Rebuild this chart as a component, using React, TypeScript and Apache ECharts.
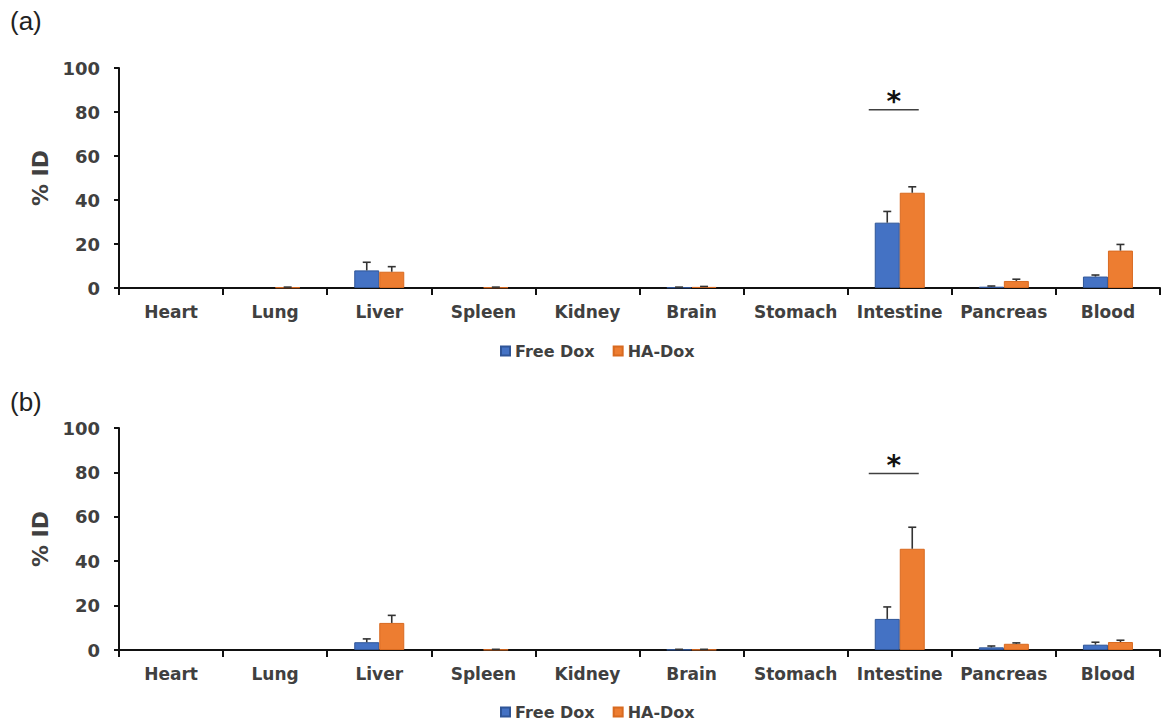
import React, { useEffect, useRef } from "react";
import * as echarts from "echarts";

const categories = ["Heart", "Lung", "Liver", "Spleen", "Kidney", "Brain", "Stomach", "Intestine", "Pancreas", "Blood"];
const seriesNames = ["Free Dox", "HA-Dox"];
const yTicks = { min: 0, max: 100, interval: 20 };

// Panel (a)
const freeA = [0, 0, 8.0, 0, 0, 0.3, 0, 29.7, 0.6, 5.2];
const freeAErr = [0, 0, 11.7, 0, 0, 0.4, 0, 34.8, 0.9, 5.9];
const haA = [0, 0.3, 7.4, 0.3, 0, 0.5, 0, 43.3, 3.2, 17.0];
const haAErr = [0, 0.4, 9.7, 0.4, 0, 0.7, 0, 46.0, 4.0, 19.8];
const sigA = [[7, 81]];

// Panel (b)
const freeB = [0, 0, 3.5, 0, 0, 0.2, 0, 14.0, 1.2, 2.4];
const freeBErr = [0, 0, 5.0, 0, 0, 0.3, 0, 19.4, 1.8, 3.5];
const haB = [0, 0, 12.2, 0.2, 0, 0.2, 0, 45.6, 2.8, 3.6];
const haBErr = [0, 0, 15.6, 0.3, 0, 0.3, 0, 55.3, 3.2, 4.4];
const sigB = [[7, 79.5]];

const BLUE = "#4472C4";
const ORANGE = "#ED7D31";
const FONT = "DejaVu Sans";
const BAR_W = 25;
const TEXT = "#404040";

function errSeries(name: string, vals: number[], tops: number[], gi: number, sign: number) {
  return {
    type: "custom",
    name: name + "-err",
    xAxisIndex: gi,
    yAxisIndex: gi,
    silent: true,
    z: 5,
    data: vals.map((v, i) => [i, v, tops[i]]),
    renderItem: (params: any, api: any) => {
      const x = api.value(0);
      const v = api.value(1);
      const e = api.value(2);
      if (e - v <= 0) return null;
      const p0 = api.coord([x, v]);
      const p1 = api.coord([x, e]);
      const cx = p0[0] + sign * BAR_W / 2;
      const style = { stroke: "#333", lineWidth: 1.6 };
      return {
        type: "group",
        children: [
          { type: "line", shape: { x1: cx, y1: p0[1], x2: cx, y2: p1[1] }, style },
          { type: "line", shape: { x1: cx - 4, y1: p1[1], x2: cx + 4, y2: p1[1] }, style },
        ],
      };
    },
  };
}

function sigSeries(data: number[][], gi: number) {
  return {
    type: "custom",
    xAxisIndex: gi,
    yAxisIndex: gi,
    silent: true,
    z: 6,
    data,
    renderItem: (params: any, api: any) => {
      const p = api.coord([api.value(0), api.value(1)]);
      return {
        type: "group",
        children: [
          { type: "line", shape: { x1: p[0] - 31, y1: p[1], x2: p[0] + 19, y2: p[1] }, style: { stroke: "#404040", lineWidth: 1.6 } },
          {
            type: "text",
            x: p[0] - 6,
            y: p[1] + 6,
            style: { text: "*", fontSize: 28, fontWeight: "bold", fontFamily: FONT, fill: "#111", align: "center", verticalAlign: "bottom" },
          },
        ],
      };
    },
  };
}

function barSeries(name: string, data: number[], gi: number, color: string, border: string) {
  return {
    type: "bar",
    name,
    xAxisIndex: gi,
    yAxisIndex: gi,
    data: data.map((v) => (v > 0 ? v : "-")),
    barWidth: BAR_W,
    barGap: "0%",
    itemStyle: { color, borderColor: border, borderWidth: 1 },
  };
}

function xAxis(gi: number) {
  return {
    type: "category",
    gridIndex: gi,
    data: categories,
    axisLine: { lineStyle: { color: "#111", width: 2 } },
    axisTick: { show: true, length: 7, lineStyle: { color: "#111", width: 2 } },
    axisLabel: { color: TEXT, fontFamily: FONT, fontWeight: "bold", fontSize: 17, margin: 15, interval: 0 },
  };
}

function yAxis(gi: number) {
  return {
    type: "value",
    gridIndex: gi,
    min: yTicks.min,
    max: yTicks.max,
    interval: yTicks.interval,
    name: "% ID",
    nameLocation: "middle",
    nameRotate: 90,
    nameGap: 64,
    nameTextStyle: { color: TEXT, fontFamily: FONT, fontWeight: "bold", fontSize: 22 },
    axisLine: { show: true, lineStyle: { color: "#111", width: 2 } },
    axisTick: { show: true, length: 5, lineStyle: { color: "#111", width: 2 } },
    splitLine: { show: false },
    axisLabel: { color: TEXT, fontFamily: FONT, fontWeight: "bold", fontSize: 18, margin: 19 },
  };
}

function legend(top: number) {
  return {
    left: 495,
    top,
    itemWidth: 9,
    itemHeight: 9,
    itemGap: 18,
    icon: "rect",
    selectedMode: false,
    data: seriesNames,
    textStyle: { color: TEXT, fontFamily: FONT, fontWeight: "bold", fontSize: 16 },
  };
}

export default function App() {
  const ref = useRef<HTMLDivElement>(null);
  useEffect(() => {
    if (!ref.current) return;
    const chart = echarts.init(ref.current, null, { renderer: "svg" });
    chart.setOption({
      animation: false,
      backgroundColor: "#fff",
      grid: [
        { left: 119, top: 68, width: 1041, height: 220 },
        { left: 119, top: 428, width: 1041, height: 222 },
      ],
      xAxis: [xAxis(0), xAxis(1)],
      yAxis: [yAxis(0), yAxis(1)],
      legend: [legend(338), legend(699)],
      graphic: [
        { type: "text", left: 10, top: 8, style: { text: "(a)", fontSize: 26, fontFamily: "Liberation Sans", fill: "#222" } },
        { type: "text", left: 10, top: 389, style: { text: "(b)", fontSize: 26, fontFamily: "Liberation Sans", fill: "#222" } },
      ],
      series: [
        barSeries(seriesNames[0], freeA, 0, BLUE, "#2F5597"),
        barSeries(seriesNames[1], haA, 0, ORANGE, "#D86A20"),
        barSeries(seriesNames[0], freeB, 1, BLUE, "#2F5597"),
        barSeries(seriesNames[1], haB, 1, ORANGE, "#D86A20"),
        errSeries("a-free", freeA, freeAErr, 0, -1),
        errSeries("a-ha", haA, haAErr, 0, 1),
        errSeries("b-free", freeB, freeBErr, 1, -1),
        errSeries("b-ha", haB, haBErr, 1, 1),
        sigSeries(sigA, 0),
        sigSeries(sigB, 1),
      ],
    });
    return () => chart.dispose();
  }, []);
  return <div ref={ref} style={{ position: "fixed", left: 0, top: 0, width: 1161, height: 722 }} />;
}
